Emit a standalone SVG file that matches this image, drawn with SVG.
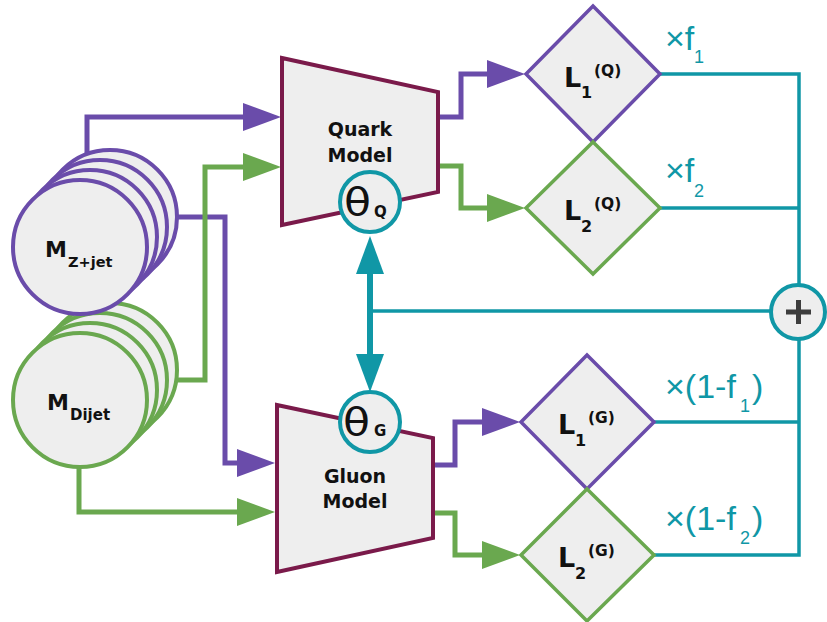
<svg xmlns="http://www.w3.org/2000/svg" width="827" height="622" viewBox="0 0 827 622">
<style>
.pl{fill:none;stroke:#6a4caa;stroke-width:5}
.gl{fill:none;stroke:#6aa84f;stroke-width:5}
.tl{fill:none;stroke:#1097a6;stroke-width:3.5}
.pc{fill:#eeeeee;stroke:#6a4caa;stroke-width:4}
.gc{fill:#eeeeee;stroke:#6aa84f;stroke-width:4}
.tc{fill:#eeeeee;stroke:#1097a6;stroke-width:4}
.trap{fill:#eeeeee;stroke:#7a1a4a;stroke-width:4;stroke-linejoin:miter}
.pd{fill:#eeeeee;stroke:#6a4caa;stroke-width:3.5}
.gd{fill:#eeeeee;stroke:#6aa84f;stroke-width:3.5}
.b{font-family:"DejaVu Sans",sans-serif;font-weight:bold;fill:#111}
.th{font-family:"DejaVu Sans",sans-serif;fill:#111}
.lab{font-family:"Liberation Sans",Arial,sans-serif;fill:#1097a6}
</style>
<defs>
<marker id="ap" viewBox="0 0 38 28" refX="1" refY="14" markerWidth="38" markerHeight="28" markerUnits="userSpaceOnUse" orient="auto"><path d="M0,0 L38,14 L0,28 Z" fill="#6a4caa"/></marker>
<marker id="ag" viewBox="0 0 38 28" refX="1" refY="14" markerWidth="38" markerHeight="28" markerUnits="userSpaceOnUse" orient="auto"><path d="M0,0 L38,14 L0,28 Z" fill="#6aa84f"/></marker>
<marker id="at" viewBox="0 0 38 28" refX="1" refY="14" markerWidth="38" markerHeight="28" markerUnits="userSpaceOnUse" orient="auto-start-reverse"><path d="M0,0 L38,14 L0,28 Z" fill="#1097a6"/></marker>
</defs>

<g id="connectors">
<path class="pl" d="M87,165 V117 H244" marker-end="url(#ap)"/>
<path class="pl" d="M165,217 H225 V463 H238" marker-end="url(#ap)"/>
<path class="pl" d="M430,117 H461 V74 H488" marker-end="url(#ap)"/>
<path class="pl" d="M425,465 H455 V422 H483" marker-end="url(#ap)"/>
<path class="gl" d="M165,380 H205 V167 H244" marker-end="url(#ag)"/>
<path class="gl" d="M79,455 V512 H238" marker-end="url(#ag)"/>
<path class="gl" d="M430,166 H461 V208 H488" marker-end="url(#ag)"/>
<path class="gl" d="M425,513 H455 V555 H483" marker-end="url(#ag)"/>
<path class="tl" d="M655,74 H799 V555 H650"/>
<path class="tl" d="M655,208 H799"/>
<path class="tl" d="M650,422 H799"/>
<path class="tl" d="M370,311 H775"/>
<path fill="none" stroke="#1097a6" stroke-width="6" d="M370,273 V355" marker-start="url(#at)" marker-end="url(#at)"/>
</g>

<g id="m-dijet">
<circle class="gc" cx="110" cy="370" r="67"/>
<circle class="gc" cx="100" cy="380" r="67"/>
<circle class="gc" cx="90" cy="390" r="67"/>
<circle class="gc" cx="80" cy="400" r="67"/>
<text class="b" x="47" y="410" font-size="22">M</text>
<text class="b" x="70" y="420" font-size="15">Dijet</text>
</g>

<g id="m-zjet">
<circle class="pc" cx="110" cy="217" r="67"/>
<circle class="pc" cx="100" cy="227" r="67"/>
<circle class="pc" cx="90" cy="237" r="67"/>
<circle class="pc" cx="80" cy="247" r="67"/>
<text class="b" x="45" y="257" font-size="22">M</text>
<text class="b" x="68" y="267" font-size="14.5">Z+jet</text>
</g>

<g id="quark-model">
<polygon class="trap" points="282,58 438,92 438,192 282,225"/>
<text class="b" x="360" y="136" font-size="19" text-anchor="middle">Quark</text>
<text class="b" x="360" y="162" font-size="19" text-anchor="middle">Model</text>
</g>

<g id="theta-q">
<circle class="tc" cx="370" cy="202" r="30"/>
<text class="th" x="344" y="215" font-size="37" textLength="27" lengthAdjust="spacingAndGlyphs">θ</text>
<text class="b" x="374" y="217" font-size="15">Q</text>
</g>

<g id="gluon-model">
<polygon class="trap" points="277,405 433,438 433,538 277,572"/>
<text class="b" x="355" y="483" font-size="19" text-anchor="middle">Gluon</text>
<text class="b" x="355" y="508" font-size="19" text-anchor="middle">Model</text>
</g>

<g id="theta-g">
<circle class="tc" cx="370" cy="422" r="30"/>
<text class="th" x="343" y="435" font-size="37" textLength="27" lengthAdjust="spacingAndGlyphs">θ</text>
<text class="b" x="374" y="436" font-size="15">G</text>
</g>

<g id="l1q">
<polygon class="pd" points="593,6 660,74 593,142 526,74"/>
<text class="b" x="564" y="87" font-size="27">L</text>
<text class="b" x="581" y="98" font-size="16">1</text>
<text class="b" x="594" y="76" font-size="15.5">(Q)</text>
</g>

<g id="l2q">
<polygon class="gd" points="593,142 660,208 593,274 526,208"/>
<text class="b" x="564" y="220" font-size="27">L</text>
<text class="b" x="581" y="232" font-size="16">2</text>
<text class="b" x="594" y="209" font-size="15.5">(Q)</text>
</g>

<g id="l1g">
<polygon class="pd" points="587,355 654,422 587,489 521,422"/>
<text class="b" x="558" y="434" font-size="27">L</text>
<text class="b" x="575" y="446" font-size="16">1</text>
<text class="b" x="588" y="423" font-size="15.5">(G)</text>
</g>

<g id="l2g">
<polygon class="gd" points="587,489 654,555 587,621 521,555"/>
<text class="b" x="558" y="567" font-size="27">L</text>
<text class="b" x="575" y="579" font-size="16">2</text>
<text class="b" x="588" y="556" font-size="15.5">(G)</text>
</g>

<g id="sum">
<circle class="tc" cx="798" cy="312" r="27"/>
<path d="M786,312 H811 M798.5,300 V324" stroke="#3d3d3d" stroke-width="5" fill="none"/>
</g>

<g id="weights">
<text class="lab" x="665" y="50" font-size="34">×f</text>
<text class="lab" x="694" y="63" font-size="18">1</text>
<text class="lab" x="665" y="182" font-size="34">×f</text>
<text class="lab" x="694" y="197" font-size="18">2</text>
<text class="lab" x="665" y="398" font-size="34">×(1-f</text>
<text class="lab" x="740" y="412" font-size="18">1</text>
<text class="lab" x="752" y="398" font-size="34">)</text>
<text class="lab" x="665" y="530" font-size="34">×(1-f</text>
<text class="lab" x="740" y="544" font-size="18">2</text>
<text class="lab" x="752" y="530" font-size="34">)</text>
</g>
</svg>
